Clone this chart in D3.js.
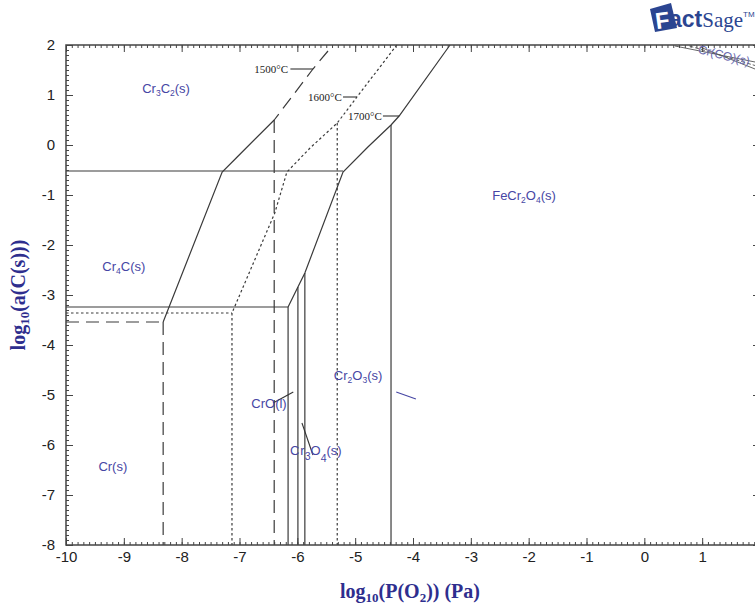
<!DOCTYPE html>
<html><head><meta charset="utf-8">
<script src="https://cdn.jsdelivr.net/npm/d3@7"></script>
<style>body{margin:0;background:#fff;overflow:hidden}</style>
</head><body>
<svg id="c" width="755" height="604"></svg>
<script>
// ---------- data ----------
const xDomain = [-10, 2];
const yDomain = [-8, 2];
const xTickValues = [-10,-9,-8,-7,-6,-5,-4,-3,-2,-1,0,1,2];
const yTickValues = [-8,-7,-6,-5,-4,-3,-2,-1,0,1,2];

// 1700 °C boundaries (solid)
const diag1700 = [[-3.36,2],[-4.24,0.58],[-4.38,0.40],[-4.78,-0.04],[-5.21,-0.54],[-5.87,-2.56],[-5.99,-2.84],[-6.16,-3.24]];
const horizUpper = [[-10,-0.52],[-5.21,-0.52]];
const horizLower1700 = [[-10,-3.24],[-6.16,-3.24]];
const verts1700 = [[-4.38,0.40],[-5.87,-2.56],[-5.99,-2.84],[-6.16,-3.24]]; // [x, top y] to bottom

// 1600 °C boundaries (dotted)
const diag1600 = [[-4.28,2],[-4.97,0.96],[-5.31,0.44],[-5.78,-0.06],[-6.18,-0.54],[-6.39,-1.36],[-7.13,-3.36]];
const horizLower1600 = [[-10,-3.36],[-7.13,-3.36]];
const verts1600 = [[-5.31,0.44],[-7.13,-3.36]];

// 1500 °C boundaries
const diag1500Solid = [[-8.32,-3.54],[-7.30,-0.54],[-7.04,-0.24],[-6.40,0.50]];
const diag1500Dash = [[-5.47,1.88],[-5.73,1.52],[-6.40,0.50]];
const horizLower1500 = [[-10,-3.54],[-8.32,-3.54]];
const verts1500 = [[-6.40,0.50],[-8.32,-3.54]];

// Cr(CO)(s) region lines, top right
const topRightLines = [
  [[0.53,1.98],[2.0,1.64]],
  [[0.78,1.98],[2.0,1.56]],
  [[0.96,1.96],[2.0,1.48]]
];

// phase labels
const phaseLabels = [
  {parts:[["Cr"],["3",1],["C"],["2",1],["(s)"]], x:-8.27, y:1.04},
  {parts:[["Cr"],["4",1],["C(s)"]], x:-9.0, y:-2.52},
  {parts:[["Cr(s)"]], x:-9.19, y:-6.52},
  {parts:[["CrO(l)"]], x:-6.49, y:-5.26},
  {parts:[["Cr"],["2",1],["O"],["3",1],["(s)"]], x:-4.95, y:-4.70},
  {parts:[["FeCr"],["2",1],["O"],["4",1],["(s)"]], x:-2.08, y:-1.10}
];
const leaders = [
  [[-6.42,-5.16],[-6.07,-4.94]],
  [[-5.92,-5.56],[-5.73,-6.20]],
  [[-4.29,-4.94],[-3.95,-5.08]]
];
const tempLabels = [
  {text:"1500°C", x:-6.16, y:1.52, lx:[-6.12,-5.73]},
  {text:"1600°C", x:-5.23, y:0.96, lx:[-5.21,-4.97]},
  {text:"1700°C", x:-4.54, y:0.58, lx:[-4.52,-4.24]}
];

// ---------- drawing ----------
const svg = d3.select("#c");
const x = d3.scaleLinear().domain(xDomain).range([66, 760]);
const y = d3.scaleLinear().domain(yDomain).range([545, 45]);
const line = d3.line().x(d=>x(d[0])).y(d=>y(d[1]));
const LC = "#3a3a3a";
const BLUE = "#4646a4";

const g = svg.append("g");

function path(pts, dash, w, col){
  g.append("path").attr("d", line(pts)).attr("fill","none")
   .attr("stroke", col||LC).attr("stroke-width", w||1.2)
   .attr("stroke-dasharray", dash||null);
}
// 1700
path(diag1700); path(horizUpper); path(horizLower1700);
verts1700.forEach(v=>path([[v[0],v[1]],[v[0],yDomain[0]]]));
// 1600
const DOT = "2.5,2.5";
path(diag1600, DOT); path(horizLower1600, DOT);
verts1600.forEach(v=>path([[v[0],v[1]],[v[0],yDomain[0]]], DOT));
// 1500
const DASH = "13,7";
path(diag1500Solid); path(diag1500Dash, DASH); path(horizLower1500, DASH);
verts1500.forEach(v=>path([[v[0],v[1]],[v[0],yDomain[0]]], DASH));
// top right
topRightLines.forEach((l,i)=>path(l, i===1?"4,2":null, 0.9, "#555"));

// frame + axes
const minorX = d3.range(-100, 21).map(d=>d/10);
const minorY = d3.range(-80, 21).map(d=>d/10);
const fmt = d=>String(d);
const tickFont = "'Liberation Sans Narrow','Arial Narrow','Liberation Sans',sans-serif";

function styleAxis(sel){
  sel.select(".domain").remove();
  sel.selectAll(".tick line").attr("stroke","#444").attr("stroke-width",1);
}
const axB = svg.append("g").attr("transform",`translate(0,${y(yDomain[0])})`)
  .call(d3.axisBottom(x).tickValues(xTickValues).tickFormat(fmt).tickSize(-7).tickPadding(6));
styleAxis(axB);
svg.append("g").attr("transform",`translate(0,${y(yDomain[0])})`)
  .call(d3.axisBottom(x).tickValues(minorX).tickFormat("").tickSize(-3)).call(styleAxis);
svg.append("g").attr("transform",`translate(0,${y(yDomain[1])})`)
  .call(d3.axisTop(x).tickValues(xTickValues).tickFormat("").tickSize(-7)).call(styleAxis);
svg.append("g").attr("transform",`translate(0,${y(yDomain[1])})`)
  .call(d3.axisTop(x).tickValues(minorX).tickFormat("").tickSize(-3)).call(styleAxis);
const axL = svg.append("g").attr("transform",`translate(${x(xDomain[0])},0)`)
  .call(d3.axisLeft(y).tickValues(yTickValues).tickFormat(fmt).tickSize(-7).tickPadding(11));
styleAxis(axL);
svg.append("g").attr("transform",`translate(${x(xDomain[0])},0)`)
  .call(d3.axisLeft(y).tickValues(minorY).tickFormat("").tickSize(-3)).call(styleAxis);
svg.append("g").attr("transform",`translate(${x(xDomain[1])},0)`)
  .call(d3.axisRight(y).tickValues(yTickValues).tickFormat("").tickSize(-7)).call(styleAxis);
svg.append("g").attr("transform",`translate(${x(xDomain[1])},0)`)
  .call(d3.axisRight(y).tickValues(minorY).tickFormat("").tickSize(-3)).call(styleAxis);
[axB, axL].forEach(a=>a.selectAll("text").attr("font-family",tickFont).attr("font-size",15).attr("fill","#222"));

svg.append("rect").attr("x",x(xDomain[0])).attr("y",y(yDomain[1]))
  .attr("width",x(xDomain[1])-x(xDomain[0])).attr("height",y(yDomain[0])-y(yDomain[1]))
  .attr("fill","none").attr("stroke","#444").attr("stroke-width",1.5);

// phase labels
const FS = 13, SFS = 8.5;
phaseLabels.forEach(L=>{
  const t = svg.append("text").attr("x",x(L.x)).attr("y",y(L.y)).attr("dy","0.35em")
    .attr("text-anchor","middle").attr("font-family","'Liberation Sans',Arial,sans-serif")
    .attr("font-size",FS).attr("fill",BLUE);
  let sub=false;
  L.parts.forEach(p=>{
    const isSub = !!p[1];
    const dy = isSub && !sub ? 3 : (!isSub && sub ? -3 : 0);
    t.append("tspan").attr("dy",dy).attr("font-size",isSub?SFS:FS).text(p[0]);
    sub = isSub;
  });
});
// Cr3O4 label with drooping subscripts
{
  const t = svg.append("text").attr("x",x(-5.68)).attr("y",y(-6.10)).attr("dy","0.35em")
    .attr("text-anchor","middle").attr("font-family","'Liberation Sans',Arial,sans-serif")
    .attr("font-size",FS).attr("fill",BLUE);
  t.append("tspan").text("C");
  t.append("tspan").attr("dx",1).text("r");
  t.append("tspan").attr("dy",5).attr("font-size",10.5).text("3");
  t.append("tspan").attr("dy",-5).text("O");
  t.append("tspan").attr("dy",7).attr("font-size",10.5).text("4");
  t.append("tspan").attr("dy",-7).text("(s)");
}
leaders.forEach(l=>path(l, null, 1.1, l===leaders[2]?BLUE:"#333"));

// temperature labels
tempLabels.forEach(T=>{
  svg.append("text").attr("x",x(T.x)).attr("y",y(T.y)).attr("dy","0.35em")
    .attr("text-anchor","end").attr("font-family","'Liberation Serif','Times New Roman',serif")
    .attr("font-size",11).attr("fill","#222").text(T.text);
  path([[T.lx[0],T.y],[T.lx[1],T.y]], null, 1.1, "#333");
});

// Cr(CO)(s) label top right
svg.append("text").attr("transform",`translate(${x(0.92)},${y(1.84)}) rotate(14)`)
  .attr("font-family","'Liberation Sans',Arial,sans-serif").attr("font-size",12)
  .attr("fill","#6a6ab0").text("Cr(CO)(s)");

// axis titles
const titleFont = "'Liberation Serif','Times New Roman',serif";
const TB = "#2e2e8e";
const xt = svg.append("text").attr("x",410).attr("y",598).attr("text-anchor","middle")
  .attr("font-family",titleFont).attr("font-weight","bold").attr("font-size",20).attr("fill",TB);
xt.append("tspan").text("log");
xt.append("tspan").attr("dy",4).attr("font-size",13).text("10");
xt.append("tspan").attr("dy",-4).text("(P(O");
xt.append("tspan").attr("dy",4).attr("font-size",13).text("2");
xt.append("tspan").attr("dy",-4).text(")) (Pa)");

const yt = svg.append("text").attr("transform",`translate(25,295) rotate(-90)`).attr("text-anchor","middle")
  .attr("font-family",titleFont).attr("font-weight","bold").attr("font-size",20).attr("fill",TB);
yt.append("tspan").text("log");
yt.append("tspan").attr("dy",4).attr("font-size",13).text("10");
yt.append("tspan").attr("dy",-4).text("(a(C(s)))");

// FactSage logo
const logo = svg.append("g");
logo.append("path").attr("d","M650,9 L671,3 L677,28 L655,32 Z").attr("fill","#2b4591");
logo.append("text").attr("x",655).attr("y",28).attr("font-family","'Liberation Sans',Arial,sans-serif")
  .attr("font-weight","bold").attr("font-size",23).attr("fill","#fff").attr("transform","rotate(-8,664,18)").text("F");
const lt = logo.append("text").attr("x",669).attr("y",27).attr("font-family","'Liberation Sans',Arial,sans-serif")
  .attr("font-size",23).attr("fill","#2b4591");
lt.append("tspan").attr("font-weight","bold").text("act");
lt.append("tspan").attr("font-family","'Liberation Serif',serif").attr("font-size",21).text("Sage");
lt.append("tspan").attr("dy",-10).attr("font-size",8).text("TM");
</script>
</body></html>
